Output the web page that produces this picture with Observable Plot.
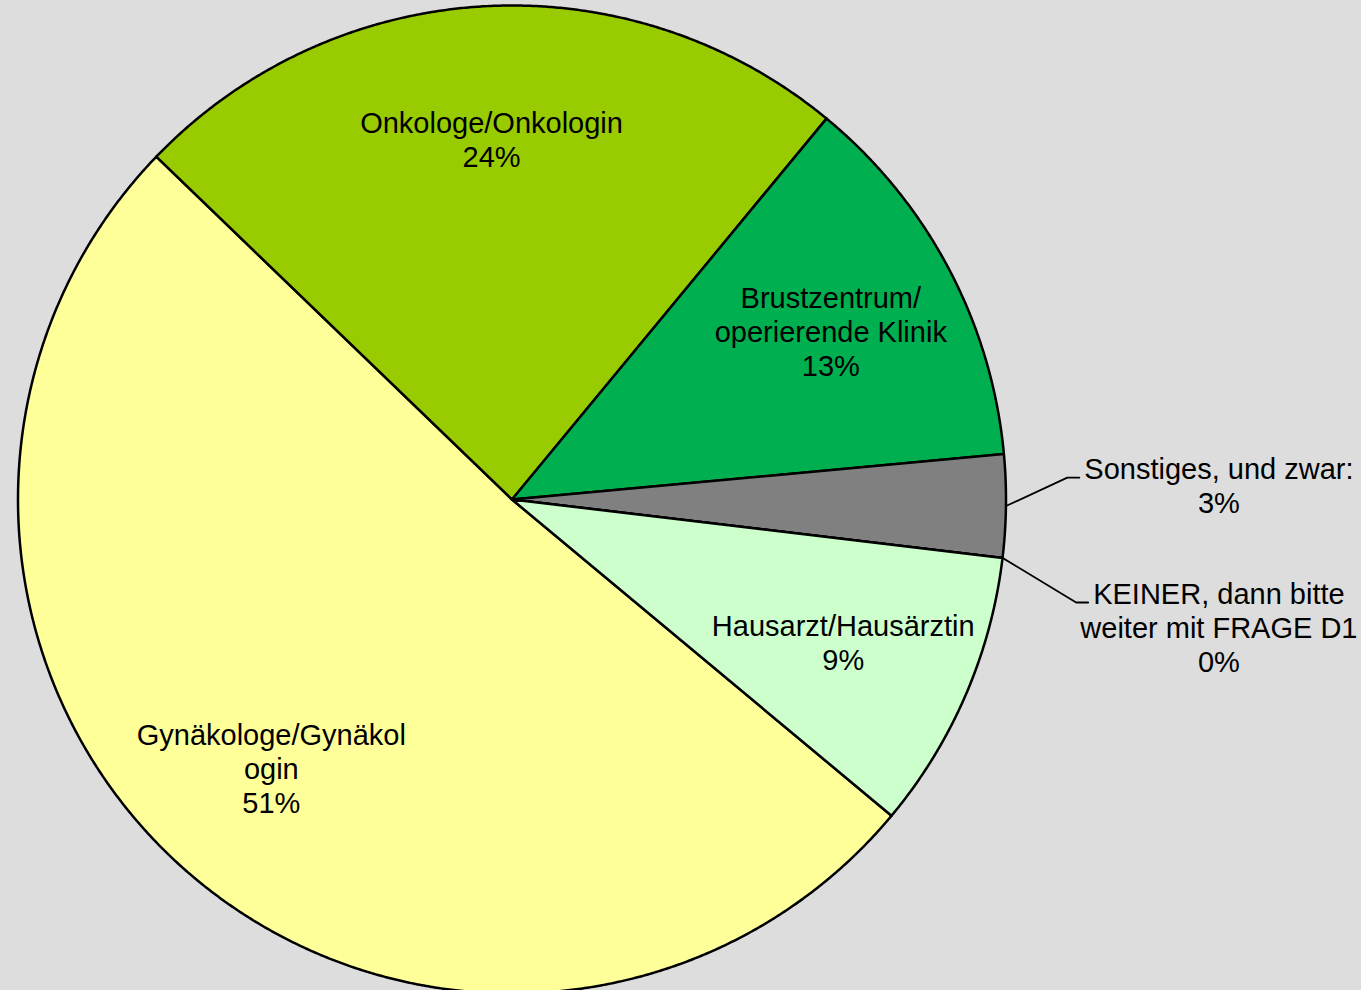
<!DOCTYPE html>
<html><head><meta charset="utf-8">
<script src="https://cdn.jsdelivr.net/npm/d3@7"></script>
<script src="https://cdn.jsdelivr.net/npm/@observablehq/plot@0.6"></script>
<style>
html,body{margin:0;padding:0;background:#DDDDDD;}
#chart{width:1361px;height:990px;overflow:hidden;}
</style></head><body><div id="chart"></div>
<script>
// ---- data ----
const categories = ["Gynäkologe/Gynäkologin", "Onkologe/Onkologin", "Brustzentrum/operierende Klinik", "Sonstiges, und zwar:", "KEINER, dann bitte weiter mit FRAGE D1", "Hausarzt/Hausärztin"];
const labelLines = [["Gynäkologe/Gynäkol", "ogin"], ["Onkologe/Onkologin"], ["Brustzentrum/", "operierende Klinik"], ["Sonstiges, und zwar:"], ["KEINER, dann bitte", "weiter mit FRAGE D1"], ["Hausarzt/Hausärztin"]];
const values = [51.15, 23.78, 12.55, 3.35, 0, 9.17];
const colors = ["#FFFF99", "#99CC00", "#00B050", "#808080", "#33CCCC", "#CCFFCC"];

// ---- settings ----
const W = 1361, H = 990;
const startDeg = 129.8;            // first slice angle (clockwise from 12 o'clock)
const fontSize = 29, lineH = 1.17;
const font = "'Liberation Sans', Arial, Helvetica, sans-serif";
const px = 494;                    // pixels per data unit (pie radius)
const cy = 499;

const rows = categories.map((c, i) => ({cat: c, lines: labelLines[i], value: values[i], color: colors[i]}));
const total = d3.sum(values);
const a0 = startDeg * Math.PI / 180;
const arcs = d3.pie().sort(null).value(d => d.value).startAngle(a0).endAngle(a0 + 2 * Math.PI)(rows);

// polygons
const poly = [];
for (const a of arcs) {
  const c = a.data.cat;
  poly.push({cat: c, x: 0, y: 0});
  const n = Math.max(1, Math.ceil((a.endAngle - a.startAngle) / (0.25 * Math.PI / 180)));
  for (let k = 0; k <= n; ++k) {
    const t = a.startAngle + (a.endAngle - a.startAngle) * k / n;
    poly.push({cat: c, x: Math.sin(t), y: Math.cos(t)});
  }
  poly.push({cat: c, x: 0, y: 0});
}

const pctText = d => Math.round(d.value / total * 100) + "%";

// inner labels
const inner = arcs.filter(a => a.data.value / total >= 0.05).map(a => {
  const m = (a.startAngle + a.endAngle) / 2;
  return {x: 0.73 * Math.sin(m), y: 0.73 * Math.cos(m), text: [...a.data.lines, pctText(a.data)].join("\n")};
});

// outer labels with leader lines
const ctx = document.createElement("canvas").getContext("2d");
ctx.font = `${fontSize}px ${font}`;
const outer = arcs.filter(a => a.data.value / total < 0.05).map(a => {
  const m = (a.startAngle + a.endAngle) / 2;
  const lines = [...a.data.lines, pctText(a.data)];
  return {cat: a.data.cat, m, lines, ex: Math.sin(m), ey: Math.cos(m), ly: 1.25 * Math.cos(m)};
}).sort((p, q) => q.ly - p.ly);
for (let iter = 0; iter < 20; ++iter) {
  for (let i = 1; i < outer.length; ++i) {
    const gap = (outer[i - 1].lines.length * fontSize * lineH + 57) / px;
    const d = outer[i - 1].ly - outer[i].ly;
    if (d < gap) { const s = (gap - d) / 2; outer[i - 1].ly += s; outer[i].ly -= s; }
  }
}
const labelCx = 1.431;
const leaders = [];
for (const o of outer) {
  const w1 = ctx.measureText(o.lines[0]).width;
  const endX = labelCx - (w1 / 2 + 5) / px;
  const elbowX = endX - 12 / px;
  leaders.push({cat: o.cat, x: o.ex, y: o.ey}, {cat: o.cat, x: elbowX, y: o.ly}, {cat: o.cat, x: endX, y: o.ly});
  o.x = labelCx; o.text = o.lines.join("\n");
}

const chart = Plot.plot({
  width: W, height: H,
  marginLeft: 17.5, marginRight: W - (17.5 + 2 * px), marginTop: 5, marginBottom: 0,
  x: {domain: [-1, 1], axis: null},
  y: {domain: [-(H - cy) / px, 1], axis: null},
  color: {domain: categories, range: colors},
  style: {background: "transparent", fontFamily: font},
  marks: [
    Plot.line(poly, {x: "x", y: "y", z: "cat", fill: "cat", stroke: "black", strokeWidth: 2.5, strokeLinejoin: "round", curve: "linear"}),
    Plot.line(leaders, {x: "x", y: "y", z: "cat", stroke: "black", strokeWidth: 1.8, curve: "linear"}),
    Plot.text(inner, {x: "x", y: "y", text: "text", fontSize, lineHeight: lineH, lineAnchor: "middle", textAnchor: "middle", fill: "black", fontFamily: font}),
    Plot.text(outer, {x: "x", y: "ly", text: "text", fontSize, lineHeight: lineH, lineAnchor: "top", dy: -22.6, textAnchor: "middle", fill: "black", fontFamily: font})
  ]
});
document.getElementById("chart").appendChild(chart);
</script>
</body></html>
